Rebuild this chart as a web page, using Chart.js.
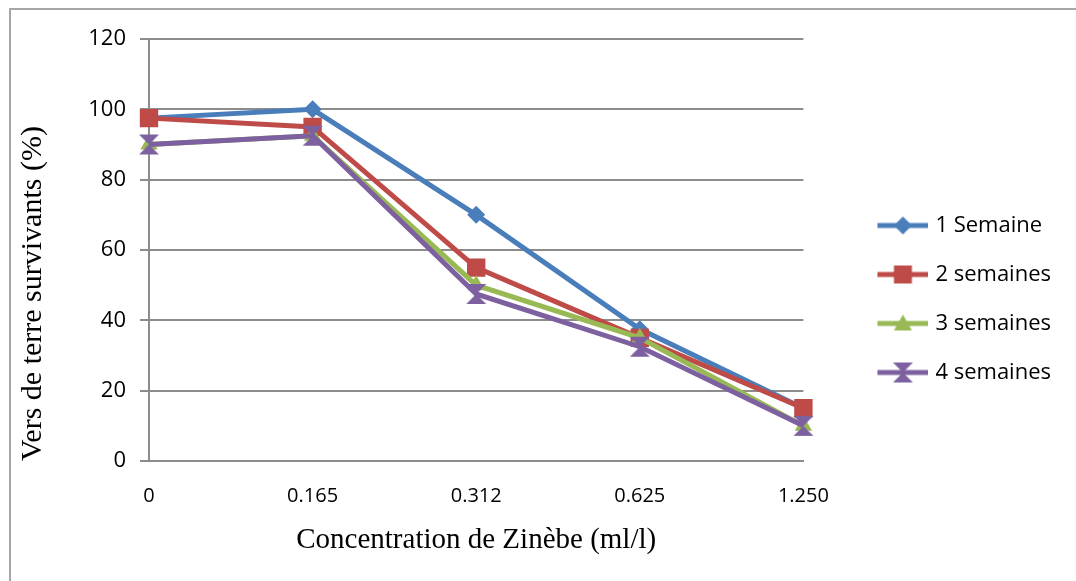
<!DOCTYPE html>
<html>
<head>
<meta charset="utf-8">
<title>Vers de terre survivants</title>
<script src="https://cdn.jsdelivr.net/npm/chart.js@4.4.1/dist/chart.umd.min.js"></script>
<style>
	html, body { margin: 0; padding: 0; background: #fff; overflow: hidden; }
	#wrap { position: relative; width: 1076px; height: 581px; }
	#frame { position: absolute; left: 9px; top: 8px; width: 1200px; height: 700px; border-left: 2px solid #a6a6a6; border-top: 2px solid #a6a6a6; }
	#chart { position: absolute; left: 0; top: 0; }
</style>
</head>
<body>
<div id="wrap">
	<div id="frame"></div>
	<canvas id="chart" width="1076" height="581"></canvas>
</div>
<script>
// concentrations (ml/l) on the x axis
const concentrations = ['0', '0.165', '0.312', '0.625', '1.250'];
const seriesNames = ['1 Semaine', '2 semaines', '3 semaines', '4 semaines'];

// surviving earthworms (%)
const week1 = [97.5, 100, 70, 37.5, 15];
const week2 = [97.5, 95, 55, 35, 15];
const week3 = [90, 92.5, 50, 35, 10];
const week4 = [90, 92.5, 47.5, 32.5, 10];

const yMin = 0;
const yMax = 120;
const yStep = 20;

const colors = ['#4a7ebb', '#be4b48', '#98b954', '#7d60a0'];
const markers = ['diamond', 'square', 'triangle', 'hourglass'];

function drawMarker(ctx, kind, x, y, color) {
	ctx.fillStyle = color;
	ctx.beginPath();
	if (kind === 'diamond') {
		ctx.moveTo(x, y - 9);
		ctx.lineTo(x + 9, y);
		ctx.lineTo(x, y + 9);
		ctx.lineTo(x - 9, y);
	} else if (kind === 'square') {
		ctx.rect(x - 9, y - 9, 18, 18);
	} else if (kind === 'triangle') {
		ctx.moveTo(x, y - 9);
		ctx.lineTo(x + 9, y + 7);
		ctx.lineTo(x - 9, y + 7);
	} else {
		ctx.moveTo(x - 10, y - 10);
		ctx.lineTo(x + 10, y - 10);
		ctx.lineTo(x, y);
		ctx.lineTo(x + 10, y + 10);
		ctx.lineTo(x - 10, y + 10);
		ctx.lineTo(x, y);
	}
	ctx.closePath();
	ctx.fill();
}

// hourglass point for the 4th series
function hourglassImage(color) {
	const c = document.createElement('canvas');
	c.width = 22;
	c.height = 22;
	drawMarker(c.getContext('2d'), 'hourglass', 11, 11, color);
	return c;
}

// legend symbol: short line with the marker in its middle (right half of the image)
function legendIcon(kind, color) {
	const c = document.createElement('canvas');
	c.width = 102;
	c.height = 24;
	const ctx = c.getContext('2d');
	ctx.strokeStyle = color;
	ctx.lineWidth = 5;
	ctx.beginPath();
	ctx.moveTo(51, 12);
	ctx.lineTo(102, 12);
	ctx.stroke();
	drawMarker(ctx, kind, 76.5, 12, color);
	return c;
}

const pointStyles = ['rectRot', 'rect', 'triangle', hourglassImage(colors[3])];
const pointRadius = [9, 13, 10, 10];
const allSeries = [week1, week2, week3, week4];

const datasets = allSeries.map((values, i) => ({
	label: seriesNames[i],
	data: values,
	borderColor: colors[i],
	backgroundColor: colors[i],
	borderWidth: 5,
	pointStyle: pointStyles[i],
	pointRadius: pointRadius[i],
	pointHoverRadius: pointRadius[i],
	pointBorderWidth: 0,
	tension: 0,
	order: 4 - i,
}));

const legendIcons = markers.map((m, i) => legendIcon(m, colors[i]));
const gridColor = '#8c8c8c';

// eslint-disable-next-line no-new
new Chart(document.getElementById('chart'), {
	type: 'line',
	data: { labels: concentrations, datasets },
	options: {
		responsive: false,
		animation: false,
		layout: { padding: { top: 39, right: 15, bottom: 22, left: 0 } },
		plugins: {
			tooltip: { enabled: false },
			legend: {
				display: true,
				position: 'right',
				labels: {
					usePointStyle: true,
					pointStyleWidth: 94,
					padding: 27,
					color: '#000',
					font: { family: 'Open Sans', size: 22 },
					generateLabels: (chart) => chart.data.datasets.map((ds, i) => ({
						text: ds.label,
						pointStyle: legendIcons[i],
						fillStyle: ds.borderColor,
						strokeStyle: ds.borderColor,
						lineWidth: 0,
						hidden: false,
						datasetIndex: i,
					})),
				},
			},
		},
		scales: {
			x: {
				offset: false,
				grid: { display: false },
				border: { display: true, color: gridColor, width: 2 },
				ticks: {
					padding: 15,
					color: '#000',
					maxRotation: 0,
					autoSkip: false,
					font: { family: 'Open Sans', size: 20 },
				},
				title: {
					display: true,
					text: 'Concentration de Zinèbe (ml/l)',
					color: '#000',
					font: { family: 'Liberation Serif', size: 29 },
					padding: { top: 0, bottom: 1 },
				},
				afterFit: (scale) => { scale.height = 98; },
			},
			y: {
				min: yMin,
				max: yMax,
				grid: { color: gridColor, lineWidth: 2, tickLength: 9 },
				border: { display: true, color: gridColor, width: 2 },
				ticks: {
					stepSize: yStep,
					padding: 14,
					color: '#000',
					font: { family: 'Open Sans', size: 22 },
				},
				title: {
					display: true,
					text: 'Vers de terre survivants (%)',
					align: 'start',
					color: '#000',
					font: { family: 'Liberation Serif', size: 30 },
					padding: { top: 15, bottom: 0 },
				},
				afterFit: (scale) => { scale.width = 149; },
			},
		},
	},
});
</script>
</body>
</html>
